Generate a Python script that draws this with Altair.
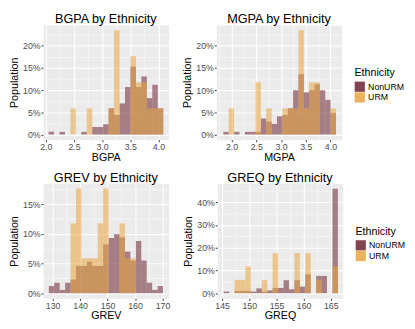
import altair as alt
import pandas as pd

ETHNICITY = ["NonURM", "URM"]
COLORS = ["#6A2430", "#E8A640"]

# ---- BGPA (21 bins) ----
bgpa_start = 2.048
bgpa_width = 0.097
bgpa_nonurm = [0.6, 0, 0.6, 0, 0, 0, 0.6, 0, 1.7, 1.7, 2.3, 5.9, 4.4, 7.0, 10.7, 15.3, 10.7, 13.1, 8.2, 11.2, 5.9]
bgpa_urm = [0, 0, 0, 0, 5.88, 0, 0, 5.88, 0, 0, 0, 5.88, 23.53, 0, 0, 17.65, 11.76, 11.76, 5.88, 5.88, 5.88]

# ---- MGPA (21 bins) ----
mgpa_start = 1.834
mgpa_width = 0.1085
mgpa_nonurm = [0.6, 0, 0.6, 0, 0.6, 0.6, 0.6, 3.6, 2.9, 2.4, 4.1, 4.4, 5.9, 10.0, 13.6, 9.5, 10.0, 11.3, 10.0, 7.8, 4.9]
mgpa_urm = [0, 5.88, 0, 0, 0, 0, 11.76, 0, 5.88, 0, 0, 5.88, 5.88, 5.88, 23.53, 5.88, 11.76, 11.76, 0, 0, 5.88]

# ---- GREV (21 bins) ----
grev_start = 128.6
grev_width = 1.98
grev_nonurm = [1.2, 1.75, 0.55, 1.75, 2.3, 4.6, 4.6, 5.3, 4.6, 4.6, 8.2, 9.3, 9.95, 9.4, 7.0, 5.5, 8.8, 5.5, 1.75, 0.55, 1.2]
grev_urm = [0, 0, 0, 0, 11.76, 17.65, 5.88, 5.88, 5.88, 11.76, 17.65, 0, 0, 11.76, 5.88, 5.88, 0, 0, 0, 0, 0]

# ---- GREQ (21 bins) ----
greq_start = 145.3
greq_width = 1.0
greq_nonurm = [0.7, 0, 1.0, 1.0, 1.0, 0.7, 2.1, 0.7, 1.2, 2.3, 2.3, 5.7, 1.7, 5.7, 2.9, 8.3, 0, 7.6, 7.6, 0, 46.0]
greq_urm = [0, 0, 5.88, 5.88, 11.76, 0, 0, 5.88, 0, 17.65, 0, 0, 0, 17.65, 0, 17.65, 0, 5.88, 0, 0, 11.76]

# axis breaks (major / minor)
gpa_major = [2.0, 2.5, 3.0, 3.5, 4.0]
bgpa_minor = [2.25, 2.75, 3.25, 3.75]
mgpa_minor = [1.75, 2.25, 2.75, 3.25, 3.75]
grev_major = [130, 140, 150, 160, 170]
grev_minor = [135, 145, 155, 165]
greq_major = [145, 150, 155, 160, 165]
greq_minor = [147.5, 152.5, 157.5, 162.5]
pct_major_a = [0, 5, 10, 15, 20]
pct_minor_a = [2.5, 7.5, 12.5, 17.5, 22.5]
pct_major_b = [0, 5, 10, 15]
pct_minor_b = [2.5, 7.5, 12.5, 17.5]
pct_major_c = [0, 10, 20, 30, 40]
pct_minor_c = [5, 15, 25, 35, 45]


def make_df(start, width, non, urm):
    rows = []
    for eth, vals in zip(ETHNICITY, (non, urm)):
        for i, v in enumerate(vals):
            if v > 0:
                rows.append({"x0": start + i * width, "x1": start + (i + 1) * width,
                             "pct": v, "Ethnicity": eth})
    return pd.DataFrame(rows)


def axis(major, minor, title, label_expr, title_pad):
    vals = sorted(major + minor)
    minor_test = f"indexof({major}, datum.value) < 0"
    return alt.Axis(
        values=vals,
        title=title,
        titlePadding=title_pad,
        labelExpr=f"indexof({major}, datum.value) >= 0 ? {label_expr} : ''",
        gridWidth={"condition": {"test": minor_test, "value": 0.5}, "value": 1.1},
        tickOpacity={"condition": {"test": minor_test, "value": 0}, "value": 1},
    )


def panel(df, title, xtitle, xdom, xmaj, xmin, xlab, ydom, ymaj, ymin, legend):
    if legend:
        leg = alt.Legend(title="Ethnicity", orient="none", legendX=142, legendY=44)
    else:
        leg = None
    return alt.Chart(df, title=alt.Title(title)).mark_rect(opacity=0.55).encode(
        x=alt.X("x0:Q", scale=alt.Scale(domain=xdom, nice=False, zero=False),
                axis=axis(xmaj, xmin, xtitle, xlab, 0)),
        x2="x1:Q",
        y=alt.Y("pct:Q", scale=alt.Scale(domain=ydom, nice=False, zero=False),
                axis=axis(ymaj, ymin, "Population", "datum.value + '%'", 3)),
        y2=alt.datum(0),
        color=alt.Color("Ethnicity:N", scale=alt.Scale(domain=ETHNICITY, range=COLORS), legend=leg),
    ).properties(width=129, height=118)


p1 = panel(make_df(bgpa_start, bgpa_width, bgpa_nonurm, bgpa_urm), "BGPA by Ethnicity", "BGPA",
           [1.95, 4.18], gpa_major, bgpa_minor, "format(datum.value, '.1f')",
           [-1.18, 24.7], pct_major_a, pct_minor_a, False)
p2 = panel(make_df(mgpa_start, mgpa_width, mgpa_nonurm, mgpa_urm), "MGPA by Ethnicity", "MGPA",
           [1.69, 4.23], gpa_major, mgpa_minor, "format(datum.value, '.1f')",
           [-1.18, 24.7], pct_major_a, pct_minor_a, True)
p3 = panel(make_df(grev_start, grev_width, grev_nonurm, grev_urm), "GREV by Ethnicity", "GREV",
           [126.5, 172.2], grev_major, grev_minor, "format(datum.value, 'd')",
           [-0.88, 18.48], pct_major_b, pct_minor_b, False)
p4 = panel(make_df(greq_start, greq_width, greq_nonurm, greq_urm), "GREQ by Ethnicity", "GREQ",
           [144.1, 167.2], greq_major, greq_minor, "format(datum.value, 'd')",
           [-2.3, 48.3], pct_major_c, pct_minor_c, True)

top = alt.hconcat(p1, p2, spacing=12).resolve_scale(color="independent").resolve_legend(color="independent")
bottom = alt.hconcat(p3, p4, spacing=12).resolve_scale(color="independent").resolve_legend(color="independent")

chart = alt.vconcat(top, bottom, spacing=8).resolve_scale(color="independent").resolve_legend(
    color="independent"
).properties(padding=0).configure(font="Liberation Sans").configure_view(
    fill="#EBEBEB", stroke="transparent"
).configure_axis(
    domain=False, gridColor="white", tickColor="#333333", tickSize=2, tickWidth=1,
    labelColor="#4D4D4D", labelFontSize=9, labelPadding=1, labelOverlap=False, labelFlush=False,
    titleFontSize=11, titleFontWeight="normal", titleColor="black",
).configure_legend(
    titleFontSize=11, titleFontWeight="normal", titleColor="black", labelFontSize=9,
    labelColor="black", symbolType="square", symbolSize=110, symbolOpacity=0.85,
    symbolStrokeWidth=0, rowPadding=0, labelOffset=3, titlePadding=3, padding=0,
).configure_title(
    fontSize=13, fontWeight="normal", anchor="middle", frame="group", offset=-1, color="black"
)

chart.save("out.html", embed_options={"renderer": "svg", "actions": False})
